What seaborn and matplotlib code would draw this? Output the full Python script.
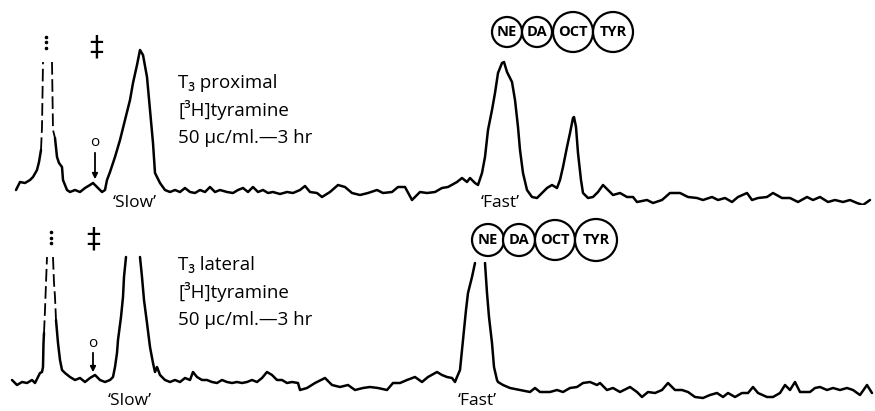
import numpy as np
import pandas as pd
import matplotlib
matplotlib.use("Agg")
import matplotlib.pyplot as plt
import seaborn as sns

# ---- data (x = migration, y = activity) ----
# top scan: T3 proximal
top_a_x = [16, 20, 25, 30, 33, 37, 39, 41]
top_a_y = [15, 23, 22, 25, 28, 35, 43, 55]
top_b_x = [55, 57, 59, 62, 63, 67, 70, 75, 80, 85, 90, 93, 97, 102, 105, 107, 110, 115,
           120, 125, 130, 133, 137, 140, 143, 147, 150, 153, 155, 160, 165, 170, 175, 180,
           185, 190, 195, 200, 205, 210, 215, 220, 227, 233, 238, 243, 248, 253, 258, 263,
           268, 273, 280, 287, 293, 300, 305, 310, 317, 322, 330, 338, 345, 352, 360, 368,
           377, 383, 392, 398, 405, 412, 420, 427, 435, 442, 448, 457, 462, 467, 470, 475,
           478, 482, 485, 488, 492, 495, 498, 502, 504, 507, 510, 512, 515, 518, 520, 523,
           527, 532, 537, 542, 547, 552, 557, 560, 563, 567, 570, 573, 574, 576, 578, 581,
           583, 588, 593, 598, 603, 608, 613, 620, 627, 633, 637, 647, 653, 662, 670, 680,
           688, 697, 703, 712, 718, 725, 732, 738, 747, 752, 758, 767, 773, 782, 790, 798,
           807, 813, 820, 828, 835, 843, 850, 857, 863, 870]
top_b_y = [67, 48, 42, 38, 25, 15, 13, 15, 13, 17, 20, 22, 18, 13, 15, 25, 33, 48,
           65, 85, 105, 122, 140, 155, 150, 128, 95, 62, 32, 22, 15, 13, 15, 13,
           17, 13, 12, 15, 13, 18, 13, 15, 13, 12, 15, 17, 13, 18, 13, 15,
           12, 13, 11, 13, 12, 15, 19, 13, 12, 8, 13, 20, 18, 12, 10, 12,
           15, 12, 13, 18, 18, 5, 13, 12, 13, 17, 18, 23, 27, 23, 27, 22,
           20, 32, 48, 75, 95, 112, 132, 142, 143, 133, 127, 123, 105, 78, 55, 32,
           15, 8, 7, 12, 17, 20, 17, 25, 38, 58, 72, 87, 88, 78, 52, 25,
           12, 7, 8, 13, 20, 15, 10, 12, 8, 8, 3, 5, 2, 5, 12, 12,
           8, 7, 5, 8, 5, 7, 3, 8, 12, 5, 7, 8, 12, 7, 7, 3,
           8, 5, 8, 3, 5, 3, 5, 2, 0, 5]
top_flank_l_x = [41, 42, 43]
top_flank_l_y = [55, 78, 143]
top_flank_r_x = [52, 53, 55]
top_flank_r_y = [143, 75, 67]
top_dots_x = [46, 46, 46]
top_dots_y = [168, 163, 157]

# bottom scan: T3 lateral
bot_a_x = [12, 17, 22, 27, 32, 35, 38, 40, 42, 43, 43.5, 44]
bot_a_y = [31, 26, 29, 28, 31, 28, 34, 38, 39, 44, 68, 78]
bot_b_x = [56, 58, 60, 62, 65, 70, 75, 80, 85, 90, 95, 100, 105, 110, 113, 115, 117, 118,
           121, 123, 124, 126]
bot_b_y = [91, 68, 51, 41, 38, 34, 31, 33, 29, 33, 36, 31, 29, 31, 34, 44, 58, 71,
           94, 114, 134, 154]
bot_c_x = [140, 142, 144, 147, 150, 153, 155, 157, 160, 165, 170, 175, 180, 185, 190, 193,
           197, 202, 207, 212, 217, 222, 227, 232, 237, 242, 247, 252, 257, 262, 267, 272,
           277, 282, 287, 292, 298, 300, 307, 315, 325, 332, 340, 348, 355, 363, 370, 378,
           387, 393, 400, 407, 415, 422, 428, 437, 442, 447, 452, 455, 457, 460, 462, 463,
           466, 468, 472, 475]
bot_c_y = [154, 134, 111, 88, 64, 48, 39, 44, 36, 31, 29, 31, 29, 33, 31, 39,
           34, 31, 31, 29, 28, 31, 29, 28, 29, 28, 29, 31, 29, 33, 39, 36,
           31, 31, 28, 29, 28, 21, 23, 28, 33, 26, 24, 26, 21, 23, 24, 23,
           21, 28, 28, 31, 34, 29, 34, 39, 36, 34, 33, 29, 34, 41, 61, 71,
           101, 118, 134, 148]
bot_d_x = [485, 487, 489, 492, 494, 497, 498, 503, 510, 520, 530, 535, 540, 550, 557, 563,
           570, 577, 583, 590, 597, 600, 607, 613, 620, 630, 637, 642, 648, 655, 662, 668,
           675, 682, 688, 695, 703, 710, 717, 723, 728, 735, 742, 748, 753, 758, 767, 773,
           780, 785, 790, 795, 800, 810, 815, 820, 827, 833, 840, 847, 853, 860, 867, 872]
bot_d_y = [148, 118, 94, 68, 44, 31, 29, 26, 23, 21, 19, 23, 19, 19, 21, 19,
           23, 24, 28, 29, 26, 28, 21, 23, 19, 24, 19, 14, 19, 18, 21, 28,
           21, 21, 19, 14, 13, 16, 18, 14, 18, 14, 18, 18, 24, 18, 14, 14,
           18, 26, 21, 29, 19, 19, 23, 24, 21, 23, 21, 23, 21, 16, 26, 18]
bot_flank_l_x = [44, 45, 46, 47]
bot_flank_l_y = [78, 101, 128, 154]
bot_flank_r_x = [53, 54, 55, 56]
bot_flank_r_y = [154, 128, 114, 91]
bot_dots_x = [51, 51, 51]
bot_dots_y = [179, 173, 168]

standards = ["NE", "DA", "OCT", "TYR"]
top_std_x = [507, 537, 573, 613]
top_std_r = [15, 15, 20, 20]
bot_std_x = [488, 519, 555, 596]
bot_std_r = [16, 16, 20, 21]

sns.set_theme(style="white")
plt.rcParams["font.family"] = ["Open Sans", "DejaVu Sans"]
plt.rcParams["text.color"] = "black"

fig = plt.figure(figsize=(8.75, 4.11), dpi=100)
ax_top = fig.add_axes([0, 206 / 411, 1, 205 / 411])
ax_bot = fig.add_axes([0, 0, 1, 206 / 411])


def trace(ax, segs, flanks, dots):
    rows = []
    for i, (xs, ys) in enumerate(segs):
        rows += [(x, y, i) for x, y in zip(xs, ys)]
    df = pd.DataFrame(rows, columns=["x", "signal", "seg"])
    sns.lineplot(data=df, x="x", y="signal", units="seg", estimator=None, sort=False,
                 color="black", linewidth=1.8, ax=ax)
    for xs, ys in flanks:
        sns.lineplot(x=xs, y=ys, sort=False, color="black", linewidth=1.3,
                     linestyle=(0, (7, 2.5)), ax=ax)
    ax.scatter(dots[0], dots[1], s=2.5, color="black", zorder=3)


trace(ax_top, [(top_a_x, top_a_y), (top_b_x, top_b_y)],
      [(top_flank_l_x, top_flank_l_y), (top_flank_r_x, top_flank_r_y)],
      (top_dots_x, top_dots_y))
trace(ax_bot, [(bot_a_x, bot_a_y), (bot_b_x, bot_b_y), (bot_c_x, bot_c_y), (bot_d_x, bot_d_y)],
      [(bot_flank_l_x, bot_flank_l_y), (bot_flank_r_x, bot_flank_r_y)],
      (bot_dots_x, bot_dots_y))


def decorate(ax, name, ytxt, dag, origin, slow, fast, std_x, std_r, std_y):
    fs = 13.5
    for k, line in enumerate([name, "[³H]tyramine", "50 μc/ml.—3 hr"]):
        ax.text(178, ytxt - 27.5 * k, line, fontsize=fs, ha="left", va="center")
    ax.text(dag[0], dag[1], "‡", fontsize=20, ha="center", va="center",
            family="DejaVu Sans")
    ax.text(origin[0], origin[1], "o", fontsize=11, ha="center", va="center")
    ax.annotate("", xy=(origin[0], origin[2]), xytext=(origin[0], origin[1] - 7),
                arrowprops=dict(arrowstyle="-|>", color="black", lw=1.3,
                                mutation_scale=8))
    ax.text(slow[0], slow[1], "‘Slow’", fontsize=12.5, ha="center", va="center")
    ax.text(fast[0], fast[1], "‘Fast’", fontsize=12.5, ha="center", va="center")
    sizes = [(2 * r * 72 / 100) ** 2 for r in std_r]
    ax.scatter(std_x, [std_y] * len(std_x), s=sizes, facecolor="white",
               edgecolor="black", linewidth=1.6, zorder=4, clip_on=False)
    for x, lab in zip(std_x, standards):
        ax.text(x, std_y, lab, fontsize=10.5, fontweight="bold", ha="center",
                va="center", zorder=5)
    ax.set_xlim(0, 875)
    ax.axis("off")


decorate(ax_top, "T₃ proximal", 122, (96, 158), (95, 62, 23), (135, 2), (500, 2),
         top_std_x, top_std_r, 173)
decorate(ax_bot, "T₃ lateral", 146, (93, 172), (93, 68, 36), (130, 10), (477, 10),
         bot_std_x, bot_std_r, 171)
ax_top.set_ylim(0, 205)
ax_bot.set_ylim(0, 206)

fig.savefig("out.png", dpi=100, facecolor="white")
